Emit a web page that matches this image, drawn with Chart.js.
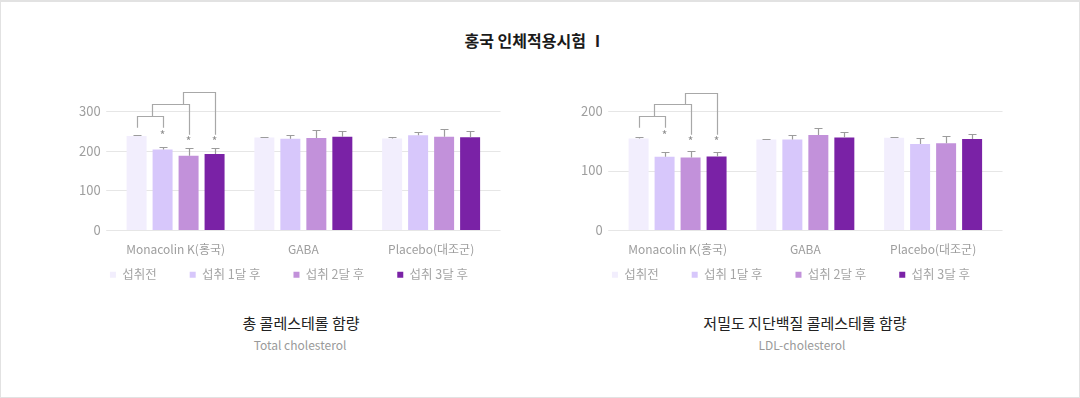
<!DOCTYPE html>
<html><head><meta charset="utf-8">
<script src="https://cdn.jsdelivr.net/npm/chart.js@4.4.1/dist/chart.umd.min.js"></script>
<style>
html,body{margin:0;padding:0;background:#fff;}
#wrap{position:relative;width:1080px;height:398px;overflow:hidden;font-family:'Noto Sans CJK KR','Noto Sans',sans-serif;background:#fff;}
#frame{position:absolute;left:0;top:0;width:1080px;height:398px;box-sizing:border-box;border:1px solid #e2e2e2;border-top-width:2px;pointer-events:none;}
.t{position:absolute;white-space:nowrap;transform:translateX(-50%);height:20px;line-height:20px;}
canvas{position:absolute;}
</style></head>
<body>
<div id="wrap">
  <div class="t" style="left:535px;top:30px;font-size:16px;font-weight:700;color:#1a1a1a;">홍국 인체적용시험 Ⅰ</div>
  <canvas id="c1" width="474" height="232" style="left:40px;top:80px;"></canvas>
  <canvas id="c2" width="474" height="232" style="left:542px;top:80px;"></canvas>
  <div class="t" style="left:301px;top:313px;font-size:15px;color:#222;">총 콜레스테롤 함량</div>
  <div class="t" style="left:300px;top:335px;font-size:12px;color:#9a9a9a;">Total cholesterol</div>
  <div class="t" style="left:805px;top:313px;font-size:15px;color:#222;">저밀도 지단백질 콜레스테롤 함량</div>
  <div class="t" style="left:802px;top:335px;font-size:12px;color:#9a9a9a;">LDL-cholesterol</div>
  <div id="frame"></div>
</div>
<script>
const categories = ['Monacolin K(홍국)', 'GABA', 'Placebo(대조군)'];
const seriesNames = ['섭취전', '섭취 1달 후', '섭취 2달 후', '섭취 3달 후'];
const seriesColors = ['#f2eefd', '#d7c7fb', '#c291da', '#7a22a6'];

// Total cholesterol
const tcBefore = [237, 233, 231];
const tcMonth1 = [203, 230, 239];
const tcMonth2 = [187, 232, 235];
const tcMonth3 = [192, 235, 234];
const tcErrBefore = [2, 2, 3];
const tcErrMonth1 = [7, 9, 8];
const tcErrMonth2 = [20, 20, 20];
const tcErrMonth3 = [16, 15, 15];
const tcTicks = [0, 100, 200, 300];
// significance brackets: [fromBar, toBar, topValue, leftLegBottom, rightLegBottom]
const tcBrackets = [[0, 1, 287, 258, 258], [0.58, 2, 317, 287, 240], [1.77, 3, 347, 317, 240]];
const tcStars = [[1, 245.6], [2, 231.6], [3, 231.6]];

// LDL cholesterol
const ldlBefore = [154, 152, 155];
const ldlMonth1 = [123, 152, 144.5];
const ldlMonth2 = [122, 159.5, 146];
const ldlMonth3 = [123.5, 155.5, 153];
const ldlErrBefore = [1.5, 1.5, 1.5];
const ldlErrMonth1 = [8, 8, 9.5];
const ldlErrMonth2 = [11, 12.5, 12];
const ldlErrMonth3 = [8, 8.5, 9];
const ldlTicks = [0, 100, 200];
const ldlBrackets = [[0, 1, 191.6, 172, 172], [0.59, 2, 211, 191.6, 160], [1.77, 3, 231, 211, 160]];
const ldlStars = [[1, 163.7], [2, 154.4], [3, 154.4]];

Chart.defaults.font.family = "'Noto Sans CJK KR','Noto Sans',sans-serif";

function makeAnnot(errors, brackets, stars) {
  return {
    id: 'annot',
    afterLayout(chart) {
      // pull the legend row up close to the axis labels
      const L = chart.legend;
      const dy = L.top - (chart.chartArea.bottom + 5.3);
      L.top -= dy; L.bottom -= dy;
    },
    beforeDatasetsDraw(chart) {
      const {ctx, chartArea} = chart; const ys = chart.scales.y;
      ctx.save(); ctx.strokeStyle = '#e6e6e6'; ctx.lineWidth = 1.2;
      ys.ticks.forEach(t => {
        const y = Math.round(ys.getPixelForValue(t.value)) + 0.5;
        ctx.beginPath(); ctx.moveTo(chartArea.left - 5.5, y); ctx.lineTo(chartArea.right + 5.5, y); ctx.stroke();
      });
      ctx.restore();
    },
    afterDatasetsDraw(chart) {
      const {ctx} = chart; const ys = chart.scales.y;
      const cx = (f) => {
        const a = Math.floor(f), b = Math.min(a + 1, 3);
        const xa = chart.getDatasetMeta(a).data[0].x, xb = chart.getDatasetMeta(b).data[0].x;
        return xa + (f - a) * (xb - xa);
      };
      ctx.save();
      ctx.strokeStyle = '#9c9c9c'; ctx.lineWidth = 1.2;
      chart.data.datasets.forEach((ds, d) => {
        const meta = chart.getDatasetMeta(d);
        meta.data.forEach((bar, i) => {
          const x = Math.round(bar.x) + 0.5;
          const yTop = Math.round(ys.getPixelForValue(ds.data[i] + errors[d][i])) + 0.5;
          ctx.beginPath();
          ctx.moveTo(x, bar.y); ctx.lineTo(x, yTop);
          ctx.moveTo(x - 4, yTop); ctx.lineTo(x + 4, yTop);
          ctx.stroke();
        });
      });
      ctx.strokeStyle = '#a8a8a8'; ctx.lineWidth = 1.2;
      brackets.forEach(b => {
        const x1 = Math.round(cx(b[0])) + 0.5, x2 = Math.round(cx(b[1])) + 0.5;
        const yt = Math.round(ys.getPixelForValue(b[2])) + 0.5;
        ctx.beginPath();
        ctx.moveTo(x1, ys.getPixelForValue(b[3])); ctx.lineTo(x1, yt);
        ctx.lineTo(x2, yt); ctx.lineTo(x2, ys.getPixelForValue(b[4]));
        ctx.stroke();
      });
      ctx.fillStyle = '#8f8f8f'; ctx.font = "12px 'Noto Sans CJK KR'"; ctx.textAlign = 'center'; ctx.textBaseline = 'alphabetic';
      stars.forEach(s => {
        ctx.fillText('*', cx(s[0]), ys.getPixelForValue(s[1]) + 7.5);
      });
      ctx.restore();
    }
  };
}

function makeChart(id, series, errors, ticks, brackets, stars) {
  const maxV = ticks[ticks.length - 1];
  return new Chart(document.getElementById(id), {
    type: 'bar',
    data: {
      labels: categories,
      datasets: series.map((s, k) => ({
        label: seriesNames[k], data: s, backgroundColor: seriesColors[k], borderWidth: 0,
        categoryPercentage: 0.8138, barPercentage: 0.769
      }))
    },
    options: {
      responsive: false, animation: false, devicePixelRatio: 1,
      layout: {padding: {left: 24, right: 0, top: 31, bottom: 0}},
      plugins: {
        legend: {
          position: 'bottom',
          labels: {boxWidth: 6, boxHeight: 6, padding: 33, color: '#a5a5a5', font: {size: 12.5}}
        },
        tooltip: {enabled: false}
      },
      scales: {
        x: {
          grid: {display: false, drawTicks: false}, border: {display: false},
          ticks: {color: '#9e9e9e', font: {size: 12}, padding: 12, maxRotation: 0, autoSkip: false},
          afterFit(s) { s.height = 26.4; }
        },
        y: {
          min: 0, max: maxV,
          afterBuildTicks(s) { s.ticks = ticks.map(v => ({value: v})); },
          grid: {display: false, drawTicks: false}, border: {display: false},
          ticks: {color: '#9e9e9e', font: {size: 13}, padding: 11},
          afterFit(s) { s.width = 47.7; }
        },
        yR: {
          type: 'linear', position: 'right', display: true,
          grid: {display: false, drawTicks: false}, border: {display: false},
          ticks: {display: false},
          afterFit(s) { s.width = 19; }
        }
      }
    },
    plugins: [makeAnnot(errors, brackets, stars)]
  });
}

makeChart('c1', [tcBefore, tcMonth1, tcMonth2, tcMonth3],
  [tcErrBefore, tcErrMonth1, tcErrMonth2, tcErrMonth3], tcTicks, tcBrackets, tcStars);
makeChart('c2', [ldlBefore, ldlMonth1, ldlMonth2, ldlMonth3],
  [ldlErrBefore, ldlErrMonth1, ldlErrMonth2, ldlErrMonth3], ldlTicks, ldlBrackets, ldlStars);
</script>
</body></html>
